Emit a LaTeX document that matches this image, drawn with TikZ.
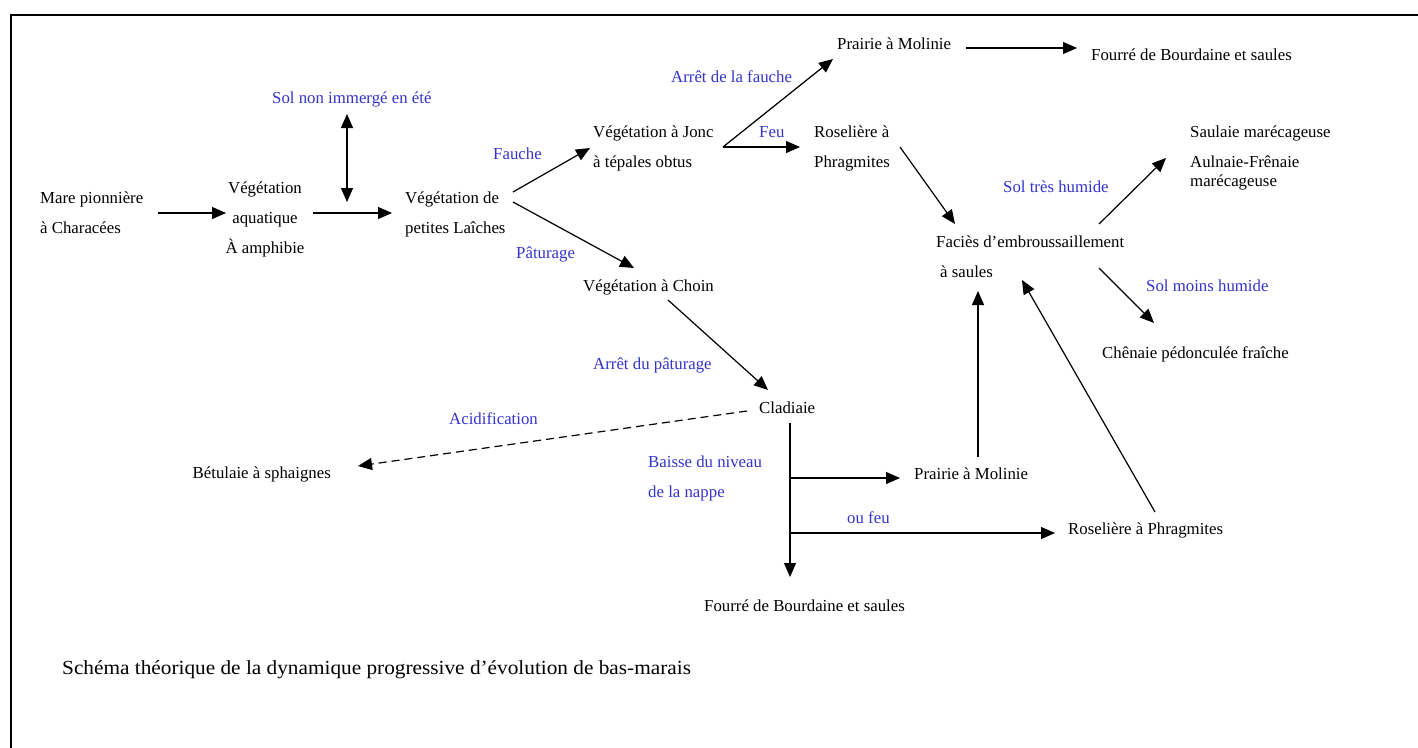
\documentclass[tikz,border=0pt]{standalone}
\usepackage{fontspec}
\setmainfont{Liberation Serif}
\usetikzlibrary{arrows.meta}
\definecolor{lblblue}{RGB}{51,51,204}
\tikzset{
  txt/.style={inner sep=0pt, anchor=base west, font=\fontsize{16.8}{30}\selectfont, align=left},
  lbl/.style={txt, text=lblblue},
  arr/.style={line width=1.2pt, -{Triangle[length=14pt,width=12pt]}},
  darr/.style={line width=1.2pt, {Triangle[length=14pt,width=12pt]}-{Triangle[length=14pt,width=12pt]}},
  dasharr/.style={arr, dash pattern=on 8pt off 5pt},
  frame/.style={line width=2pt}
}
\begin{document}
\begin{tikzpicture}[x=1pt,y=-1pt]
\useasboundingbox (0,0) rectangle (1418,747);
\draw[frame] (1420,15) -- (11,15) -- (11,749);

% nodes (multi-line nodes are placed at the baseline of their last line)
\node[txt] (mare) at (40,233) {Mare pionnière\\à Characées};
\node[txt, anchor=base, align=center] (aqua) at (265,253) {Végétation\\aquatique\\À amphibie};
\node[lbl] (sol) at (272,103) {Sol non immergé en été};
\node[txt] (laiches) at (405,233) {Végétation de\\petites Laîches};
\node[txt] (jonc) at (593,167) {Végétation à Jonc\\à tépales obtus};
\node[txt] (prairieA) at (837,49) {Prairie à Molinie};
\node[txt] (fourreA) at (1091,60) {Fourré de Bourdaine et saules};
\node[txt] (roselA) at (814,167) {Roselière à\\Phragmites};
\node[txt] (facies) at (936,277) {Faciès d’embroussaillement\\\hspace*{4pt}à saules};
\node[txt, font=\fontsize{16.8}{19}\selectfont] (saul) at (1190,186) {Saulaie marécageuse\\[11pt]Aulnaie-Frênaie\\marécageuse};
\node[txt] (chenaie) at (1102,358) {Chênaie pédonculée fraîche};
\node[txt] (choin) at (583,291) {Végétation à Choin};
\node[txt] (cladiaie) at (759,413) {Cladiaie};
\node[txt, anchor=base east] (betulaie) at (331,478) {Bétulaie à sphaignes};
\node[txt] (fourreB) at (704,611) {Fourré de Bourdaine et saules};
\node[txt] (prairieB) at (914,479) {Prairie à Molinie};
\node[txt] (roselB) at (1068,534) {Roselière à Phragmites};

% labels
\node[lbl] (fauche) at (493,159) {Fauche};
\node[lbl] (paturage) at (516,258) {Pâturage};
\node[lbl] (arretF) at (671,82) {Arrêt de la fauche};
\node[lbl] (feu) at (759,137) {Feu};
\node[lbl] (tresH) at (1003,192) {Sol très humide};
\node[lbl] (moinsH) at (1146,291) {Sol moins humide};
\node[lbl] (arretP) at (593,369) {Arrêt du pâturage};
\node[lbl] (acid) at (449,424) {Acidification};
\node[lbl] (baisse) at (648,497) {Baisse du niveau\\de la nappe};
\node[lbl] (oufeu) at (847,523) {ou feu};

\node[inner sep=0pt, anchor=base west, font=\fontsize{20}{24}\selectfont, xscale=1.064, transform shape] (caption) at (62,674) {Schéma théorique de la dynamique progressive d’évolution de bas-marais};

% connectors
\draw[arr] ([shift={(118,-20)}]mare.base west) -- ([shift={(-39,-40)}]aqua.base);
\draw[arr] ([shift={(48,-40)}]aqua.base) -- ([shift={(-13,-20)}]laiches.base west);
\coordinate (dj) at (347,202);
\draw[darr] ([shift={(75,11)}]sol.base west) -- (dj);
\draw[arr] ([shift={(108,-41)}]laiches.base west) -- ([shift={(-3,-19)}]jonc.base west);
\draw[arr] ([shift={(108,-31)}]laiches.base west) -- ([shift={(51,-23)}]choin.base west);
\draw[arr] ([shift={(130,-20)}]jonc.base west) -- ([shift={(-4,10)}]prairieA.base west);
\draw[arr] ([shift={(130,-20)}]jonc.base west) -- ([shift={(-14,-20)}]roselA.base west);
\draw[arr] ([shift={(129,-1)}]prairieA.base west) -- ([shift={(-14,-12)}]fourreA.base west);
\draw[arr] ([shift={(86,-20)}]roselA.base west) -- ([shift={(19,-53)}]facies.base west);
\draw[arr] ([shift={(163,-53)}]facies.base west) -- ([shift={(-24,-28)}]saul.base west);
\draw[arr] ([shift={(163,-9)}]facies.base west) -- ([shift={(52,-35)}]chenaie.base west);
\draw[arr] ([shift={(85,9)}]choin.base west) -- ([shift={(9,-23)}]cladiaie.base west);
\draw[dasharr] ([shift={(-12,-2)}]cladiaie.base west) -- ([shift={(27,-12)}]betulaie.base east);
\draw[arr] ([shift={(31,10)}]cladiaie.base west) -- ([shift={(86,-34)}]fourreB.base west);
\draw[arr] ([shift={(31,65)}]cladiaie.base west) -- ([shift={(-14,-1)}]prairieB.base west);
\draw[arr] ([shift={(31,120)}]cladiaie.base west) -- ([shift={(-13,-1)}]roselB.base west);
\draw[arr] ([shift={(64,-22)}]prairieB.base west) -- ([shift={(42,14)}]facies.base west);
\draw[arr] ([shift={(87,-22)}]roselB.base west) -- ([shift={(86,3)}]facies.base west);
\end{tikzpicture}
\end{document}
